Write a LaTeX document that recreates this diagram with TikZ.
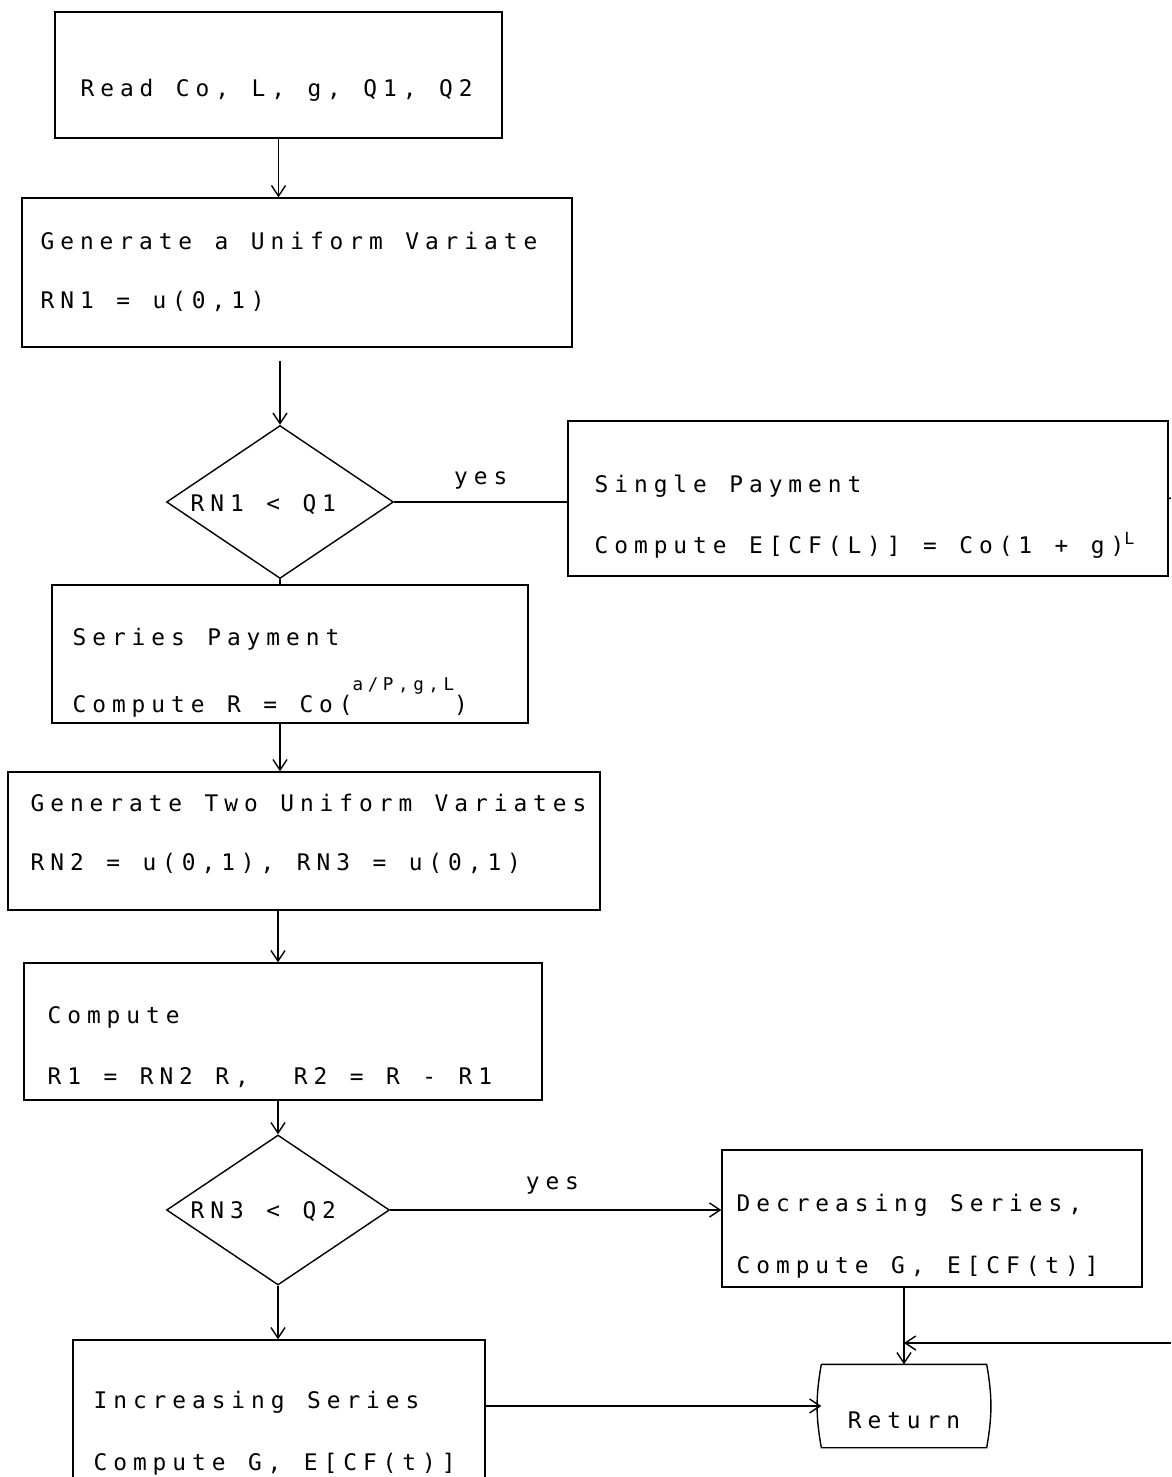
\documentclass[tikz,border=0pt]{standalone}
\usepackage{fontspec}
\newfontfamily\plotfont[LetterSpace=26]{DejaVu Sans Mono}
\newcommand\plotsize{\plotfont\fontsize{13}{15}\selectfont}
% one blank cell of the plotter lettering
\newcommand\sk{\kern0.45cm\relax}
\usetikzlibrary{arrows.meta,shapes.geometric,fit}
\begin{document}
\begin{tikzpicture}[x=0.02cm,y=-0.02cm,
  line width=0.8pt,
  every node/.style={font=\plotsize},
  box/.style={draw, rectangle, inner sep=0pt},
  decision/.style={draw, diamond, inner sep=0pt},
  txt/.style={anchor=base west, inner sep=0pt},
  arr/.style={-{Straight Barb[length=6pt,width=8pt]}},
]
\useasboundingbox (0,0) rectangle (1171,1477);

% process boxes
\node[box, fit={(55,12) (502,138)}]     (read)   {};
\node[box, fit={(22,198) (572,347)}]    (gen1)   {};
\node[box, fit={(568,421) (1168,576)}]  (single) {};
\node[box, fit={(52,585) (528,723)}]    (series) {};
\node[box, fit={(8,772) (600,910)}]     (gen2)   {};
\node[box, fit={(24,963) (542,1100)}]   (comp)   {};
\node[box, fit={(722,1150) (1142,1287)}] (dec)   {};
\node[box, fit={(73,1340) (485,1482)}]  (inc)    {};

% decisions
\node[decision, minimum width=4.54cm, minimum height=3.06cm] (d1) at (280,502) {};
\node[decision, minimum width=4.46cm, minimum height=3.0cm]  (d2) at (278,1210) {};

% terminal with bowed sides
\node[inner sep=0pt, minimum width=3.28cm, minimum height=1.64cm] (ret) at (904,1406) {};
\draw (ret.north west) -- (ret.north east) to[bend left=10] (ret.south east)
      -- (ret.south west) to[bend left=10] (ret.north west);

% texts
\node[txt] (t-read)  at (80,96)    {Read\sk Co,\sk L,\sk g,\sk Q1,\sk Q2};
\node[txt] (t-gen1a) at (40,249)   {Generate\sk a\sk Uniform\sk Variate};
\node[txt] (t-gen1b) at (40,308)   {RN1\sk =\sk u(0,1)};
\node[txt] (t-d1)    at (190,511)  {RN1\sk <\sk Q1};
\node[txt] (t-sina)  at (594,492)  {Single\sk Payment};
\node[txt] (t-sinb)  at (594,553)  {Compute\sk E[CF(L)]\sk =\sk Co(1\sk +\sk g)\raisebox{0.18cm}{\fontsize{9.5}{11}\selectfont L}};
\node[txt] (t-sera)  at (72,645)   {Series\sk Payment};
\node[txt] (t-serb)  at (72,712)   {Compute\sk R\sk =\sk Co(\raisebox{0.44cm}{\fontsize{10}{11}\selectfont a/P,g,L})};
\node[txt] (t-gen2a) at (30,811)   {Generate\sk Two\sk Uniform\sk Variates};
\node[txt] (t-gen2b) at (30,870)   {RN2\sk =\sk u(0,1),\sk RN3\sk =\sk u(0,1)};
\node[txt] (t-compa) at (47,1023)  {Compute};
\node[txt] (t-compb) at (47,1084)  {R1\sk =\sk RN2\sk R,\sk\sk R2\sk =\sk R\sk -\sk R1};
\node[txt] (t-d2)    at (190,1218) {RN3\sk <\sk Q2};
\node[txt] (t-deca)  at (736,1211) {Decreasing\sk Series,};
\node[txt] (t-decb)  at (736,1273) {Compute\sk G,\sk E[CF(t)]};
\node[txt] (t-inca)  at (93,1408)  {Increasing\sk Series};
\node[txt] (t-incb)  at (93,1470)  {Compute\sk G,\sk E[CF(t)]};
\node[inner sep=0pt] (t-ret) at (904,1420) {Return};

% connectors
\coordinate (sout) at (1171,498);
\coordinate (rin)  at (1171,1343);

\draw[arr] (read.south) -- (read.south |- gen1.north);
\draw[arr] ([yshift=-0.26cm]d1.north |- gen1.south) -- (d1.north);
\draw (d1.east) -- (d1.east -| single.west)
      node[midway, above=0.25cm, inner sep=0pt] (yes1) {yes};
\draw (single.east) -- (sout);
\draw (d1.south) -- (d1.south |- series.north);
\draw[arr] (d1.south |- series.south) -- (d1.south |- gen2.north);
\draw[arr] (d2.north |- gen2.south) -- (d2.north |- comp.north);
\draw[arr] (d2.north |- comp.south) -- (d2.north);
\draw[arr] (d2.east) -- (d2.east -| dec.west)
      node[pos=0.49, above=0.3cm, inner sep=0pt] (yes2) {yes};
\draw[arr] (d2.south) -- (d2.south |- inc.north);
\draw[arr] (inc.east |- ret.west) -- (ret.west);
\draw[arr] (ret.north |- dec.south) -- (ret.north);
\draw[arr] (rin) -- (rin -| ret.north);
\end{tikzpicture}
\end{document}
